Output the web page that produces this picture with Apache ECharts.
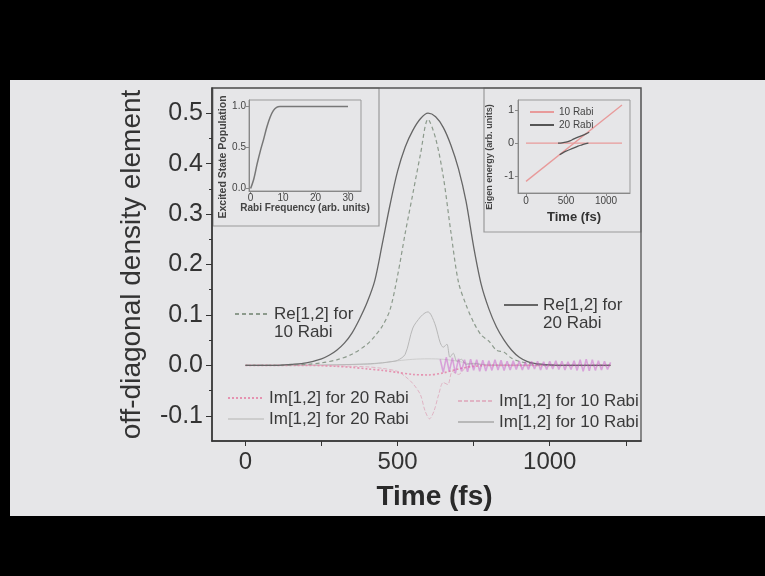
<!DOCTYPE html>
<html>
<head>
<meta charset="utf-8">
<script src="https://cdn.jsdelivr.net/npm/echarts@6/dist/echarts.min.js"></script>
<style>
  html, body { margin: 0; padding: 0; background: #000; }
  #chart { width: 765px; height: 576px; }
</style>
</head>
<body>
<div id="chart"></div>
<script>
// main plot: Re / Im of rho[1,2] vs time (fs)
var tRe20 = [0, 50, 100, 150, 200, 250, 275, 300, 325, 350, 375, 400, 425, 450, 475, 500, 525, 550, 575, 600,
             625, 650, 675, 700, 725, 750, 775, 800, 825, 850, 875, 900, 925, 950, 1000, 1050, 1100, 1150, 1200];
var re20 = [0, 0, 0, 0.002, 0.005, 0.013, 0.02, 0.03, 0.044, 0.064, 0.092, 0.125, 0.168, 0.242, 0.318, 0.385, 0.433, 0.466, 0.489, 0.5,
            0.493, 0.472, 0.437, 0.39, 0.325, 0.235, 0.16, 0.112, 0.076, 0.05, 0.03, 0.016, 0.008, 0.004, 0.001, 0, 0, 0, 0];

var tRe10 = [0, 100, 200, 250, 300, 350, 400, 425, 450, 475, 500, 525, 550, 575, 600, 625, 650, 675, 700, 725,
             750, 775, 800, 825, 850, 875, 900, 950, 1000, 1100, 1200];
var re10 = [0, 0, 0.002, 0.005, 0.011, 0.022, 0.042, 0.058, 0.078, 0.11, 0.178, 0.262, 0.34, 0.418, 0.488, 0.45, 0.375, 0.265, 0.165, 0.12,
            0.085, 0.06, 0.048, 0.03, 0.026, 0.014, 0.008, 0.002, 0, 0, 0];

var tIm20 = [0, 200, 300, 350, 400, 450, 500, 550, 600, 650, 700, 750, 800, 1200];
var im20 = [0, 0, -0.002, -0.004, -0.007, -0.01, -0.014, -0.018, -0.019, -0.015, -0.007, -0.002, 0, 0];

var tIm20b = [0, 400, 450, 500, 550, 600, 650, 700, 750, 1200];
var im20b = [0, 0.002, 0.005, 0.009, 0.012, 0.013, 0.012, 0.008, 0.002, 0];

var tIm10a = [0, 200, 300, 400, 450, 500, 525, 550, 575, 590, 605, 620, 635, 650, 665, 680, 700, 725, 750];
var im10a = [0, 0, -0.001, -0.003, -0.006, -0.012, -0.022, -0.036, -0.058, -0.09, -0.106, -0.09, -0.058, -0.034, -0.038, -0.012, -0.018, -0.004, 0];

var tIm10b = [0, 200, 300, 400, 450, 475, 500, 525, 550, 575, 590, 600, 610, 625, 640, 650, 662, 672, 683, 695,
              710, 725, 750, 800, 900, 1000, 1100, 1200];
var im10b = [0, 0, 0.001, 0.003, 0.005, 0.007, 0.01, 0.022, 0.074, 0.096, 0.104, 0.106, 0.1, 0.078, 0.045, 0.036, 0.042, 0.016, 0.024, 0.008,
             0.012, 0.002, 0.004, 0, 0, 0, 0, 0];

// fast oscillating tail of Im[1,2]
var tOsc = [640, 650, 660, 670, 680, 690, 700, 710, 720, 730, 740, 750, 760, 770, 780, 790, 800, 810, 820, 830,
            840, 850, 860, 870, 880, 890, 900, 910, 920, 930, 940, 950, 960, 970, 980, 990, 1000, 1010, 1020, 1030,
            1040, 1050, 1060, 1070, 1080, 1090, 1100, 1110, 1120, 1130, 1140, 1150, 1160, 1170, 1180, 1190, 1200];
var osc = [0.012, -0.014, 0.016, -0.012, 0.015, -0.016, 0.013, -0.012, 0.011, -0.013,
           0.012, -0.01, 0.011, -0.012, 0.01, -0.011, 0.009, -0.01, 0.011, -0.009,
           0.01, -0.01, 0.008, -0.009, 0.009, -0.008, 0.008, -0.009, 0.007, -0.008,
           0.008, -0.007, 0.008, -0.009, 0.007, -0.008, 0.008, -0.007, 0.009, -0.008,
           0.008, -0.009, 0.007, -0.008, 0.009, -0.01, 0.011, -0.012, 0.012, -0.011,
           0.011, -0.01, 0.009, -0.009, 0.008, -0.008, 0.006];

// left inset: excited state population vs Rabi frequency
var rabiX = [0, 1, 2, 3, 4, 5, 6, 7, 8, 9, 10, 15, 20, 25, 30];
var popY = [0, 0.12, 0.3, 0.46, 0.6, 0.75, 0.87, 0.95, 0.99, 1.0, 1.0, 1.0, 1.0, 1.0, 1.0];

// right inset: eigen energies vs time
var tDiag = [0, 1200];
var eDiag = [-1.15, 1.15];
var tFlat = [0, 1200];
var eFlat = [0, 0];
var tUp20 = [400, 450, 500, 550, 600, 650, 700, 750, 790];
var eUp20 = [0, 0.01, 0.03, 0.07, 0.13, 0.18, 0.23, 0.28, 0.33];
var tLo20 = [420, 460, 500, 550, 600, 650, 700, 750, 780];
var eLo20 = [-0.35, -0.29, -0.24, -0.19, -0.14, -0.09, -0.05, -0.01, 0];

var mainXLabels = [0, 500, 1000];
var mainXTicks = [0, 250, 500, 750, 1000, 1250];
var mainYLabels = [-0.1, 0, 0.1, 0.2, 0.3, 0.4, 0.5];
var mainYMinor = [-0.05, 0.05, 0.15, 0.25, 0.35, 0.45];

function pairs(t, v) {
  return t.map(function (x, i) { return [x, v[i]]; });
}
function plain(v) { return String(v); }

var FONT = 'Liberation Sans, Arial, sans-serif';
var BG = '#e6e6e8';
var noDot = { opacity: 0 };

var chart = echarts.init(document.getElementById('chart'));

var option = {
  animation: false,
  backgroundColor: '#000',
  textStyle: { fontFamily: FONT },
  grid: [
    { left: 212, top: 88, width: 429, height: 353, show: true, borderColor: '#555', borderWidth: 1.3, backgroundColor: 'transparent' },
    { left: 249, top: 100, width: 112, height: 91, show: true, borderColor: '#999', borderWidth: 1 },
    { left: 518, top: 100, width: 112, height: 93, show: true, borderColor: '#999', borderWidth: 1 }
  ],
  xAxis: [
    {
      type: 'value', gridIndex: 0, min: -110, max: 1300,
      name: 'Time (fs)', nameLocation: 'middle', nameGap: 42,
      nameTextStyle: { fontSize: 28, fontWeight: 'bold', color: '#2a2a2a', padding: [0, 0, 0, 16] },
      axisLine: { onZero: false, lineStyle: { color: '#333', width: 1.6 } },
      axisTick: { customValues: mainXTicks, length: 5, lineStyle: { color: '#333' } },
      axisLabel: { customValues: mainXLabels, fontSize: 24, color: '#333', margin: 9, formatter: plain },
      splitLine: { show: false }
    },
    {
      type: 'value', gridIndex: 1, min: -0.5, max: 34,
      axisLine: { onZero: false, lineStyle: { color: '#888' } },
      axisTick: { customValues: [0, 10, 20, 30], length: 3, lineStyle: { color: '#888' } },
      axisLabel: { customValues: [0, 10, 20, 30], fontSize: 10, color: '#444', margin: 2, formatter: plain },
      splitLine: { show: false }
    },
    {
      type: 'value', gridIndex: 2, min: -100, max: 1300,
      axisLine: { onZero: false, lineStyle: { color: '#888' } },
      axisTick: { customValues: [0, 500, 1000], length: 3, lineStyle: { color: '#888' } },
      axisLabel: { customValues: [0, 500, 1000], fontSize: 10, color: '#444', margin: 3, formatter: plain },
      splitLine: { show: false }
    }
  ],
  yAxis: [
    {
      type: 'value', gridIndex: 0, min: -0.15, max: 0.55,
      name: 'off-diagonal density element', nameLocation: 'middle', nameGap: 66, nameRotate: 90,
      nameTextStyle: { fontSize: 28, color: '#333' },
      axisLine: { onZero: false, lineStyle: { color: '#333', width: 1.5 } },
      axisTick: { customValues: mainYLabels, length: 6, lineStyle: { color: '#333' } },
      axisLabel: { customValues: mainYLabels, fontSize: 25, color: '#333', margin: 9,
                   formatter: function (v) { return v.toFixed(1); } },
      splitLine: { show: false }
    },
    {
      type: 'value', gridIndex: 0, min: -0.15, max: 0.55, position: 'left',
      axisLine: { show: false, onZero: false },
      axisTick: { customValues: mainYMinor, length: 3, lineStyle: { color: '#333' } },
      axisLabel: { show: false },
      splitLine: { show: false }
    },
    {
      type: 'value', gridIndex: 1, min: -0.03, max: 1.08,
      axisLine: { onZero: false, lineStyle: { color: '#888' } },
      axisTick: { customValues: [0, 0.5, 1], length: 3, lineStyle: { color: '#888' } },
      axisLabel: { customValues: [0, 0.5, 1], fontSize: 10, color: '#444', margin: 3,
                   formatter: function (v) { return v.toFixed(1); } },
      splitLine: { show: false }
    },
    {
      type: 'value', gridIndex: 2, min: -1.5, max: 1.3,
      axisLine: { onZero: false, lineStyle: { color: '#888' } },
      axisTick: { customValues: [-1, 0, 1], length: 3, lineStyle: { color: '#888' } },
      axisLabel: { customValues: [-1, 0, 1], fontSize: 11, color: '#444', margin: 4 },
      splitLine: { show: false }
    }
  ],
  legend: [
    {
      data: ['Re[1,2] for 10 Rabi'], left: 229, top: 299, itemWidth: 34, itemHeight: 14, selectedMode: false,
      itemStyle: noDot, formatter: function () { return 'Re[1,2] for'; },
      textStyle: { fontSize: 17, color: '#3a3a3a', lineHeight: 20 }
    },
    {
      data: ['Re[1,2] for 20 Rabi'], left: 498, top: 290, itemWidth: 34, itemHeight: 14, selectedMode: false,
      itemStyle: noDot, formatter: function () { return 'Re[1,2] for'; },
      textStyle: { fontSize: 17, color: '#3a3a3a', lineHeight: 20 }
    },
    {
      data: ['Im[1,2] for 20 Rabi', 'Im[1,2] for 20 Rabi '], orient: 'vertical', left: 222, top: 383,
      itemWidth: 36, itemHeight: 14, itemGap: 1, selectedMode: false, itemStyle: noDot,
      textStyle: { fontSize: 17, color: '#3a3a3a', lineHeight: 20 }
    },
    {
      data: ['Im[1,2] for 10 Rabi', 'Im[1,2] for 10 Rabi '], orient: 'vertical', left: 452, top: 386,
      itemWidth: 36, itemHeight: 14, itemGap: 1, selectedMode: false, itemStyle: noDot,
      textStyle: { fontSize: 17, color: '#3a3a3a', lineHeight: 20 }
    },
    {
      data: ['10 Rabi', '20 Rabi'], orient: 'vertical', left: 524, top: 102,
      itemWidth: 24, itemHeight: 8, itemGap: 3, selectedMode: false, itemStyle: noDot,
      textStyle: { fontSize: 10, color: '#444' }
    }
  ],
  graphic: [
    { type: 'rect', z: -2, shape: { x: 10, y: 80, width: 755, height: 436 }, style: { fill: BG } },
    { type: 'rect', z: -1, shape: { x: 213, y: 88, width: 166, height: 138 }, style: { fill: BG, stroke: '#9a9a9a', lineWidth: 1.2 } },
    { type: 'rect', z: -1, shape: { x: 484, y: 88, width: 157, height: 144 }, style: { fill: BG, stroke: '#9a9a9a', lineWidth: 1.2 } },
    { type: 'text', z: 5, x: 274, y: 332,
      style: { text: '10 Rabi', font: '17px ' + FONT, fill: '#3a3a3a', align: 'left', verticalAlign: 'middle' } },
    { type: 'text', z: 5, x: 543, y: 323,
      style: { text: '20 Rabi', font: '17px ' + FONT, fill: '#3a3a3a', align: 'left', verticalAlign: 'middle' } },
    { type: 'text', z: 5, x: 223, y: 157, rotation: Math.PI / 2,
      style: { text: 'Excited State Population', font: 'bold 10.5px ' + FONT, fill: '#444', align: 'center', verticalAlign: 'middle' } },
    { type: 'text', z: 5, x: 305, y: 208,
      style: { text: 'Rabi Frequency (arb. units)', font: 'bold 10px ' + FONT, fill: '#444', align: 'center', verticalAlign: 'middle' } },
    { type: 'text', z: 5, x: 490, y: 157, rotation: Math.PI / 2,
      style: { text: 'Eigen energy (arb. units)', font: 'bold 9px ' + FONT, fill: '#444', align: 'center', verticalAlign: 'middle' } },
    { type: 'text', z: 5, x: 574, y: 217,
      style: { text: 'Time (fs)', font: 'bold 13px ' + FONT, fill: '#333', align: 'center', verticalAlign: 'middle' } }
  ],
  series: [
    { name: 'Im[1,2] for 20 Rabi ', type: 'line', xAxisIndex: 0, yAxisIndex: 0, symbol: 'none', smooth: 0.3,
      data: pairs(tIm20b, im20b), lineStyle: { color: '#cdcdcd', width: 1 }, itemStyle: { color: '#cdcdcd' } },
    { name: 'Im[1,2] for 10 Rabi ', type: 'line', xAxisIndex: 0, yAxisIndex: 0, symbol: 'none', smooth: 0.3,
      data: pairs(tIm10b, im10b), lineStyle: { color: '#b8b8b8', width: 1 }, itemStyle: { color: '#b8b8b8' } },
    { name: 'Im[1,2] for 10 Rabi', type: 'line', xAxisIndex: 0, yAxisIndex: 0, symbol: 'none', smooth: 0.3,
      data: pairs(tIm10a, im10a), lineStyle: { color: '#e0b4c4', width: 1, type: [4, 2] }, itemStyle: { color: '#e0b4c4' } },
    { name: 'Im[1,2] for 20 Rabi', type: 'line', xAxisIndex: 0, yAxisIndex: 0, symbol: 'none', smooth: 0.3,
      data: pairs(tIm20, im20), lineStyle: { color: '#e592b0', width: 1.6, type: [2, 2] }, itemStyle: { color: '#e592b0' } },
    { name: 'Re[1,2] for 10 Rabi', type: 'line', xAxisIndex: 0, yAxisIndex: 0, symbol: 'none', smooth: 0.3,
      data: pairs(tRe10, re10), lineStyle: { color: '#8c9a8c', width: 1.2, type: [4, 3] }, itemStyle: { color: '#8c9a8c' } },
    { name: 'Re[1,2] for 20 Rabi', type: 'line', xAxisIndex: 0, yAxisIndex: 0, symbol: 'none', smooth: 0.3,
      data: pairs(tRe20, re20), lineStyle: { color: '#666', width: 1.3 }, itemStyle: { color: '#666' } },
    { name: 'Im[1,2] tail', type: 'line', xAxisIndex: 0, yAxisIndex: 0, symbol: 'none',
      data: pairs(tOsc, osc), lineStyle: { color: 'rgba(200,80,200,0.45)', width: 1.6 } },

    { name: 'population', type: 'line', xAxisIndex: 1, yAxisIndex: 2, symbol: 'none', smooth: 0.3,
      data: pairs(rabiX, popY), lineStyle: { color: '#777', width: 1.5 } },

    { name: '10 Rabi', type: 'line', xAxisIndex: 2, yAxisIndex: 3, symbol: 'none',
      data: pairs(tDiag, eDiag), lineStyle: { color: '#e89a9a', width: 1.3 }, itemStyle: { color: '#e89a9a' } },
    { name: '10 Rabi', type: 'line', xAxisIndex: 2, yAxisIndex: 3, symbol: 'none',
      data: pairs(tFlat, eFlat), lineStyle: { color: '#e89a9a', width: 1.3 }, itemStyle: { color: '#e89a9a' } },
    { name: '20 Rabi', type: 'line', xAxisIndex: 2, yAxisIndex: 3, symbol: 'none', smooth: 0.3,
      data: pairs(tUp20, eUp20), lineStyle: { color: '#555', width: 1.3 }, itemStyle: { color: '#555' } },
    { name: '20 Rabi', type: 'line', xAxisIndex: 2, yAxisIndex: 3, symbol: 'none', smooth: 0.3,
      data: pairs(tLo20, eLo20), lineStyle: { color: '#555', width: 1.3 }, itemStyle: { color: '#555' } }
  ]
};

chart.setOption(option);
</script>
</body>
</html>
